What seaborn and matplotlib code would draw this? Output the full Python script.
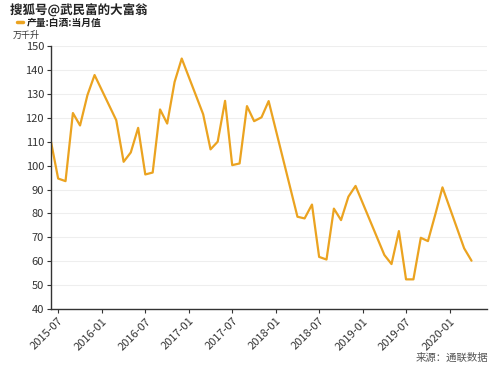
import pandas as pd
import matplotlib
matplotlib.use("Agg")
import matplotlib.pyplot as plt
import matplotlib.dates as mdates
import matplotlib.patheffects as pe
from matplotlib.lines import Line2D
import seaborn as sns

# monthly baijiu output (10k kilolitres), Jan/Feb not reported
months = ['2015-06', '2015-07', '2015-08', '2015-09', '2015-10', '2015-11', '2015-12',
          '2016-03', '2016-04', '2016-05', '2016-06', '2016-07', '2016-08', '2016-09',
          '2016-10', '2016-11', '2016-12',
          '2017-03', '2017-04', '2017-05', '2017-06', '2017-07', '2017-08', '2017-09',
          '2017-10', '2017-11', '2017-12',
          '2018-04', '2018-05', '2018-06', '2018-07', '2018-08', '2018-09', '2018-10',
          '2018-11', '2018-12',
          '2019-04', '2019-05', '2019-06', '2019-07', '2019-08', '2019-09', '2019-10',
          '2019-11', '2019-12',
          '2020-03', '2020-04']
output = [110, 94.6, 93.5, 122, 116.8, 129.5, 137.9,
          119, 101.6, 105.5, 115.8, 96.3, 97.1, 123.5,
          117.6, 135, 144.8,
          121.5, 106.8, 110, 127.1, 100.2, 100.9, 124.9,
          118.6, 120.2, 127,
          78.6, 77.9, 83.7, 61.8, 60.7, 82, 77.2,
          87, 91.5,
          62.6, 58.8, 72.6, 52.4, 52.4, 69.8, 68.4,
          79.6, 90.9,
          65.4, 60.2]

series_name = '产量:白酒:当月值'
unit = '万千升'
source = '来源：通联数据'
watermark = '搜狐号@武民富的大富翁'

df = pd.DataFrame({'date': pd.to_datetime(months), 'value': output})

sns.set_style('white')
plt.rcParams['font.family'] = ['Noto Sans CJK SC', 'DejaVu Sans']

fig = plt.figure(figsize=(5, 3.75), dpi=100)
ax = fig.add_axes([0.102, 0.176, 0.872, 0.701])

sns.lineplot(data=df, x='date', y='value', color='#EBA320', linewidth=1.6, ax=ax)

ax.set_ylim(40, 150)
ax.set_yticks(range(40, 151, 10))
ax.set_xlim(pd.Timestamp('2015-06-01'), pd.Timestamp('2020-06-05'))
ax.xaxis.set_major_locator(mdates.MonthLocator(bymonth=[1, 7]))
ax.xaxis.set_major_formatter(mdates.DateFormatter('%Y-%m'))
plt.setp(ax.get_xticklabels(), rotation=45, ha='right', rotation_mode='anchor')

ax.grid(axis='y', color='#eeeeee', linewidth=0.8)
ax.set_axisbelow(True)
for s in ['top', 'right']:
    ax.spines[s].set_visible(False)
for s in ['left', 'bottom']:
    ax.spines[s].set_color('#333333')
    ax.spines[s].set_linewidth(1.0)
ax.tick_params(axis='both', labelsize=8, colors='#333333', length=3, width=0.8,
               left=True, bottom=True, pad=2)
ax.set_xlabel('')
ax.set_ylabel('')

# legend + unit + watermark
fig.add_artist(Line2D([0.033, 0.045], [0.941, 0.941], color='#EBA320', linewidth=2.5,
                      transform=fig.transFigure))
fig.text(0.054, 0.94, series_name, fontsize=7, fontweight='bold', color='#222222', va='center')
fig.text(0.026, 0.906, unit, fontsize=6.5, color='#333333', va='center')
fig.text(0.02, 0.973, watermark, fontsize=9, fontweight='bold', color='#222222', va='center',
         path_effects=[pe.withStroke(linewidth=1.5, foreground='white')])
fig.text(0.976, 0.045, source, fontsize=7.5, color='#555555', ha='right', va='center')

fig.savefig('out.png', dpi=100)
